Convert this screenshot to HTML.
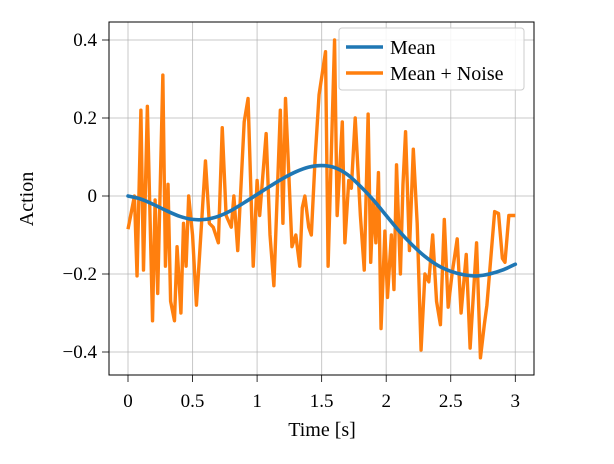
<!DOCTYPE html>
<html><head><meta charset="utf-8"><style>
html,body{margin:0;padding:0;background:#fff;}
svg text{font-family:"Liberation Serif",serif;fill:#000;}
</style></head><body>
<svg id="chart" width="614" height="459" viewBox="0 0 614 459" xmlns="http://www.w3.org/2000/svg">
<g id="grid"></g>
<g id="series"></g>
<g id="axes"></g>
<text x="322" y="436" font-size="20" text-anchor="middle">Time [s]</text>
<text x="0" y="0" font-size="20" text-anchor="middle" transform="translate(33,199) rotate(-90)">Action</text>
<g>
<rect x="339" y="28" width="185" height="62" rx="3" fill="#fff" fill-opacity="0.85" stroke="#ccc" stroke-width="1"/>
<line x1="346" y1="47" x2="383" y2="47" stroke="#1f77b4" stroke-width="3.5"/>
<text x="390" y="54" font-size="20">Mean</text>
<line x1="346" y1="73" x2="383" y2="73" stroke="#ff7f0e" stroke-width="3.5"/>
<text x="390" y="80" font-size="20">Mean + Noise</text>
</g>
</svg>
<script>
const xTicks=[0,0.5,1,1.5,2,2.5,3];
const xTickLabels=["0","0.5","1","1.5","2","2.5","3"];
const yTicks=[-0.4,-0.2,0,0.2,0.4];
const yTickLabels=["\u22120.4","\u22120.2","0","0.2","0.4"];
const meanT=[0,0.1,0.2,0.3,0.4,0.5,0.6,0.7,0.8,0.9,1.0,1.1,1.2,1.3,1.4,1.5,1.6,1.7,1.8,1.9,2.0,2.1,2.2,2.3,2.4,2.5,2.6,2.7,2.8,2.9,3.0];
const meanV=[0,-0.008,-0.022,-0.038,-0.052,-0.06,-0.06,-0.052,-0.037,-0.017,0.004,0.025,0.045,0.062,0.074,0.078,0.073,0.055,0.025,-0.01,-0.05,-0.09,-0.125,-0.155,-0.178,-0.193,-0.202,-0.205,-0.2,-0.19,-0.175];
const noiseT=[0,0.05,0.07,0.1,0.12,0.15,0.19,0.21,0.23,0.27,0.29,0.31,0.33,0.36,0.38,0.41,0.43,0.45,0.47,0.5,0.53,0.6,0.63,0.66,0.7,0.73,0.76,0.8,0.82,0.85,0.9,0.93,0.97,1.0,1.02,1.07,1.1,1.13,1.18,1.2,1.22,1.27,1.3,1.33,1.35,1.37,1.4,1.42,1.45,1.48,1.53,1.55,1.6,1.62,1.66,1.68,1.71,1.73,1.76,1.8,1.83,1.86,1.88,1.9,1.92,1.94,1.96,1.99,2.01,2.04,2.06,2.08,2.11,2.13,2.15,2.18,2.21,2.24,2.27,2.3,2.33,2.36,2.39,2.42,2.45,2.48,2.51,2.55,2.58,2.62,2.65,2.7,2.73,2.76,2.78,2.84,2.87,2.9,2.92,2.95,3.0];
const noiseV=[-0.085,0.0,-0.205,0.22,-0.19,0.23,-0.32,-0.01,-0.25,0.31,-0.18,0.03,-0.27,-0.32,-0.13,-0.3,-0.07,-0.18,0.0,-0.1,-0.28,0.09,-0.07,-0.08,-0.12,0.175,-0.05,-0.08,0.0,-0.14,0.19,0.25,-0.18,0.04,-0.05,0.16,-0.1,-0.23,0.22,-0.07,0.25,-0.13,-0.1,-0.18,-0.03,0.0,-0.08,-0.1,0.1,0.26,0.37,-0.18,0.4,-0.05,0.19,-0.12,0.04,0.02,0.2,-0.05,-0.19,0.21,-0.17,-0.01,-0.12,0.06,-0.34,-0.09,-0.26,-0.1,-0.24,0.08,-0.2,0.03,0.165,-0.14,0.12,-0.07,-0.395,-0.2,-0.22,-0.1,-0.27,-0.33,-0.06,-0.285,-0.2,-0.11,-0.3,-0.15,-0.39,-0.12,-0.415,-0.33,-0.28,-0.04,-0.045,-0.16,-0.17,-0.05,-0.05];

const L=109,R=534,T=22,B=375;
const xs=t=>128+t*129.1;
const ys=v=>196-v*390;
const NS="http://www.w3.org/2000/svg";
function mk(tag,attrs,parent){const e=document.createElementNS(NS,tag);for(const k in attrs)e.setAttribute(k,attrs[k]);parent.appendChild(e);return e;}
const grid=document.getElementById('grid'),axes=document.getElementById('axes'),series=document.getElementById('series');
xTicks.forEach((t,i)=>{
  const g=mk('line',{x1:xs(t),x2:xs(t),y1:T,y2:B,stroke:'#b0b0b0','stroke-width':1,'stroke-opacity':0.7},grid);
  
  
  const tk=mk('line',{x1:xs(t),x2:xs(t),y1:B,y2:B+7,stroke:'#000','stroke-width':0.8},axes);
  
  
  const tx=mk('text',{x:xs(t),y:B+32,'font-size':19,'text-anchor':'middle'},axes);
  tx.textContent=xTickLabels[i];
  
  
});
yTicks.forEach((v,i)=>{
  const g=mk('line',{x1:L,x2:R,y1:ys(v),y2:ys(v),stroke:'#b0b0b0','stroke-width':1,'stroke-opacity':0.7},grid);
  
  
  const tk=mk('line',{x1:L-7,x2:L,y1:ys(v),y2:ys(v),stroke:'#000','stroke-width':0.8},axes);
  
  
  const tx=mk('text',{x:L-12,y:ys(v)+6,'font-size':19,'text-anchor':'end'},axes);
  tx.textContent=yTickLabels[i];
  
  
});
const nl=mk('polyline',{points:noiseT.map((t,i)=>xs(t)+','+ys(noiseV[i])).join(' '),fill:'none',stroke:'#ff7f0e','stroke-width':3.4,'stroke-linejoin':'round'},series);


// smooth mean via Catmull-Rom
const P=meanT.map((t,i)=>[xs(t),ys(meanV[i])]);
let d='M'+P[0][0]+','+P[0][1];
for(let i=0;i<P.length-1;i++){
  const p0=P[Math.max(0,i-1)],p1=P[i],p2=P[i+1],p3=P[Math.min(P.length-1,i+2)];
  const c1=[p1[0]+(p2[0]-p0[0])/6,p1[1]+(p2[1]-p0[1])/6];
  const c2=[p2[0]-(p3[0]-p1[0])/6,p2[1]-(p3[1]-p1[1])/6];
  d+=' C'+c1[0]+','+c1[1]+' '+c2[0]+','+c2[1]+' '+p2[0]+','+p2[1];
}
const ml=mk('path',{d:d,fill:'none',stroke:'#1f77b4','stroke-width':3.6,'stroke-linecap':'round'},series);


const fr=mk('rect',{x:L,y:T,width:R-L,height:B-T,fill:'none',stroke:'#000','stroke-width':1},axes);


</script>
</body></html>
